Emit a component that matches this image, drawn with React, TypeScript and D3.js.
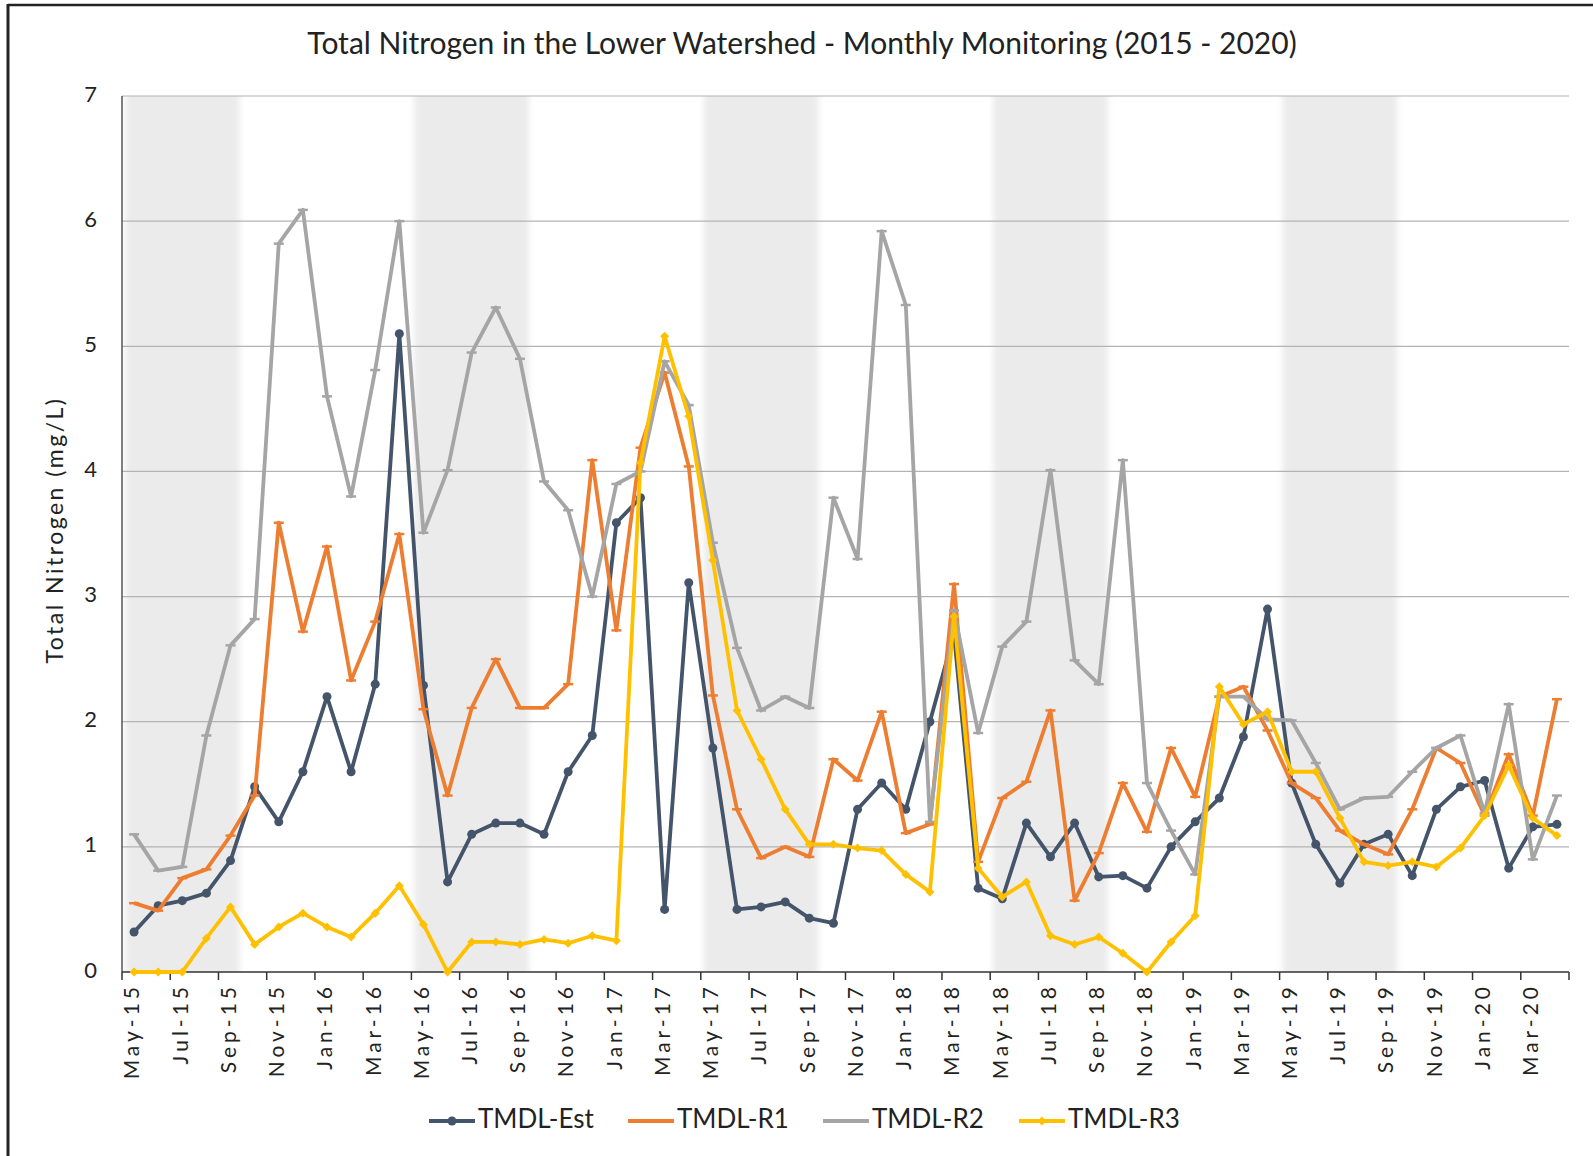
import React from 'react'
import * as d3 from 'd3'

const width = 1593
const height = 1156
const margin = { top: 96, right: 24, bottom: 184, left: 122 }

const months = [
  'May-15', 'Jun-15', 'Jul-15', 'Aug-15', 'Sep-15', 'Oct-15', 'Nov-15', 'Dec-15', 'Jan-16', 'Feb-16',
  'Mar-16', 'Apr-16', 'May-16', 'Jun-16', 'Jul-16', 'Aug-16', 'Sep-16', 'Oct-16', 'Nov-16', 'Dec-16',
  'Jan-17', 'Feb-17', 'Mar-17', 'Apr-17', 'May-17', 'Jun-17', 'Jul-17', 'Aug-17', 'Sep-17', 'Oct-17',
  'Nov-17', 'Dec-17', 'Jan-18', 'Feb-18', 'Mar-18', 'Apr-18', 'May-18', 'Jun-18', 'Jul-18', 'Aug-18',
  'Sep-18', 'Oct-18', 'Nov-18', 'Dec-18', 'Jan-19', 'Feb-19', 'Mar-19', 'Apr-19', 'May-19', 'Jun-19',
  'Jul-19', 'Aug-19', 'Sep-19', 'Oct-19', 'Nov-19', 'Dec-19', 'Jan-20', 'Feb-20', 'Mar-20', 'Apr-20',
]

// monitoring season shading (May - Sep)
const seasonYears = ['15', '16', '17', '18', '19']

const tmdlEst = [
  0.32, 0.53, 0.57, 0.63, 0.89, 1.48, 1.2, 1.6, 2.2, 1.6,
  2.3, 5.1, 2.29, 0.72, 1.1, 1.19, 1.19, 1.1, 1.6, 1.89,
  3.59, 3.79, 0.5, 3.11, 1.79, 0.5, 0.52, 0.56, 0.43, 0.39,
  1.3, 1.51, 1.3, 2.0, 2.7, 0.67, 0.585, 1.19, 0.92, 1.19,
  0.76, 0.77, 0.67, 1.0, 1.2, 1.39, 1.88, 2.9, 1.51, 1.02,
  0.71, 1.02, 1.1, 0.77, 1.3, 1.48, 1.53, 0.83, 1.16, 1.18,
]
const tmdlR1 = [
  0.55, 0.49, 0.75, 0.82, 1.09, 1.41, 3.59, 2.72, 3.4, 2.33,
  2.8, 3.5, 2.1, 1.41, 2.11, 2.5, 2.11, 2.11, 2.3, 4.09,
  2.73, 4.19, 4.79, 4.04, 2.21, 1.3, 0.91, 1.0, 0.92, 1.7,
  1.53, 2.08, 1.11, 1.18, 3.1, 0.88, 1.39, 1.52, 2.09, 0.57,
  0.95, 1.51, 1.12, 1.79, 1.4, 2.2, 2.28, 1.93, 1.51, 1.39,
  1.13, 1.02, 0.94, 1.3, 1.79, 1.67, 1.25, 1.74, 1.25, 2.18,
]
const tmdlR2 = [
  1.1, 0.81, 0.84, 1.89, 2.61, 2.82, 5.82, 6.09, 4.6, 3.8,
  4.81, 6.0, 3.51, 4.01, 4.95, 5.31, 4.9, 3.92, 3.69, 3.0,
  3.9, 4.0, 4.88, 4.53, 3.43, 2.59, 2.09, 2.2, 2.11, 3.79,
  3.3, 5.92, 5.33, 1.2, 2.89, 1.91, 2.6, 2.8, 4.01, 2.49,
  2.3, 4.09, 1.51, 1.13, 0.78, 2.2, 2.2, 2.02, 2.01, 1.67,
  1.3, 1.39, 1.4, 1.6, 1.79, 1.89, 1.27, 2.14, 0.9, 1.41,
]
const tmdlR3 = [
  0, 0, 0, 0.27, 0.52, 0.22, 0.36, 0.47, 0.36, 0.28,
  0.47, 0.69, 0.38, 0, 0.24, 0.24, 0.22, 0.26, 0.23, 0.29,
  0.25, 4.07, 5.08, 4.44, 3.29, 2.09, 1.7, 1.3, 1.02, 1.02,
  0.99, 0.97, 0.78, 0.64, 2.84, 0.83, 0.6, 0.72, 0.29, 0.22,
  0.28, 0.15, 0, 0.24, 0.45, 2.28, 1.98, 2.08, 1.6, 1.6,
  1.23, 0.88, 0.85, 0.88, 0.84, 0.99, 1.25, 1.65, 1.23, 1.09,
]

const yTicks = [0, 1, 2, 3, 4, 5, 6, 7]

const series = [
  { name: 'TMDL-Est', values: tmdlEst, color: '#44546A', marker: 'dot' },
  { name: 'TMDL-R1', values: tmdlR1, color: '#ED7D31', marker: 'dash' },
  { name: 'TMDL-R2', values: tmdlR2, color: '#A5A5A5', marker: 'dash' },
  { name: 'TMDL-R3', values: tmdlR3, color: '#FFC000', marker: 'diamond' },
]

const legendX = [429, 628, 823, 1019]
const font = 'Lato, "Liberation Sans", Arial, sans-serif'

const Marker = ({ kind, x, y, color }: { kind: string; x: number; y: number; color: string }) => {
  if (kind === 'dot') return <circle cx={x} cy={y} r={4.5} fill={color} />
  if (kind === 'diamond')
    return <path d={`M${x},${y - 4.5}L${x + 4.5},${y}L${x},${y + 4.5}L${x - 4.5},${y}Z`} fill={color} />
  return <line x1={x - 5} x2={x + 5} y1={y} y2={y} stroke={color} strokeWidth={2.5} />
}

export default function App() {
  const x = d3
    .scaleBand<string>()
    .domain(months)
    .range([margin.left, width - margin.right])
    .padding(0)
  const y = d3
    .scaleLinear()
    .domain([0, 7])
    .range([height - margin.bottom, margin.top])

  const cx = (m: string) => (x(m) as number) + x.bandwidth() / 2
  const line = d3
    .line<number>()
    .x((_, i) => cx(months[i]))
    .y((d) => y(d))

  const bottom = y(0)
  const right = width - margin.right

  return (
    <svg
      width={width}
      height={height}
      style={{ position: 'absolute', left: 0, top: 0, fontFamily: font }}
    >
      <defs>
        <filter id="soft" x="-10%" y="-5%" width="120%" height="110%">
          <feGaussianBlur stdDeviation="3" />
        </filter>
        <clipPath id="plot">
          <rect x={margin.left} y={margin.top} width={right - margin.left} height={bottom - margin.top} />
        </clipPath>
      </defs>
      <rect width={width} height={height} fill="#fff" />
      <line x1={8} x2={width} y1={5} y2={5} stroke="#222" strokeWidth={2.5} />
      <line x1={8} x2={8} y1={4} y2={height} stroke="#222" strokeWidth={3} />

      <text x={802} y={46} textAnchor="middle" dominantBaseline="middle" fontSize={30} fill="#222">
        Total Nitrogen in the Lower Watershed - Monthly Monitoring (2015 - 2020)
      </text>

      <g clipPath="url(#plot)">
        <g filter="url(#soft)">
          {seasonYears.map((yr) => {
            const x0 = x(`May-${yr}`) as number
            const x1 = (x(`Sep-${yr}`) as number) + x.bandwidth()
            return <rect key={yr} x={x0 + 3} y={margin.top - 10} width={x1 - x0 - 6} height={bottom - margin.top + 20} fill="#EBEBEB" />
          })}
        </g>
      </g>

      {yTicks.map((t) => (
        <g key={t}>
          {t > 0 && <line x1={margin.left} x2={right} y1={y(t)} y2={y(t)} stroke="#B3B3B3" strokeWidth={1.2} />}
          <text x={97} y={y(t)} textAnchor="end" dominantBaseline="middle" fontSize={22} fill="#222">
            {t}
          </text>
        </g>
      ))}

      <line x1={margin.left} x2={margin.left} y1={margin.top} y2={bottom} stroke="#555" strokeWidth={1.5} />
      <line x1={margin.left} x2={right} y1={bottom} y2={bottom} stroke="#333" strokeWidth={1.5} />
      {months.map((m, i) =>
        i % 2 === 0 ? (
          <g key={m}>
            <line x1={x(m)} x2={x(m)} y1={bottom} y2={bottom + 8} stroke="#333" strokeWidth={1.5} />
            <text
              transform={`translate(${cx(m)},${bottom + 11}) rotate(-90)`}
              textAnchor="end"
              dominantBaseline="middle"
              fontSize={21}
              letterSpacing={4}
              fill="#222"
            >
              {m}
            </text>
          </g>
        ) : null
      )}
      <line x1={right} x2={right} y1={bottom} y2={bottom + 8} stroke="#333" strokeWidth={1.5} />

      <text
        transform={`translate(57,530) rotate(-90)`}
        textAnchor="middle"
        dominantBaseline="middle"
        fontSize={23}
        letterSpacing={2.5}
        fill="#222"
      >
        Total Nitrogen (mg/L)
      </text>

      {series.map((s) => (
        <g key={s.name}>
          <path d={line(s.values) || ''} fill="none" stroke={s.color} strokeWidth={3.8} strokeLinejoin="round" />
          {s.values.map((v, i) => (
            <Marker key={i} kind={s.marker} x={cx(months[i])} y={y(v)} color={s.color} />
          ))}
        </g>
      ))}

      {series.map((s, i) => (
        <g key={s.name} transform={`translate(${legendX[i]},1121)`}>
          <line x1={0} x2={46} y1={0} y2={0} stroke={s.color} strokeWidth={3.8} />
          {i !== 1 && <Marker kind={s.marker} x={23} y={0} color={s.color} />}
          <text x={49} y={0} dominantBaseline="middle" fontSize={26} fill="#222">
            {s.name}
          </text>
        </g>
      ))}
    </svg>
  )
}
